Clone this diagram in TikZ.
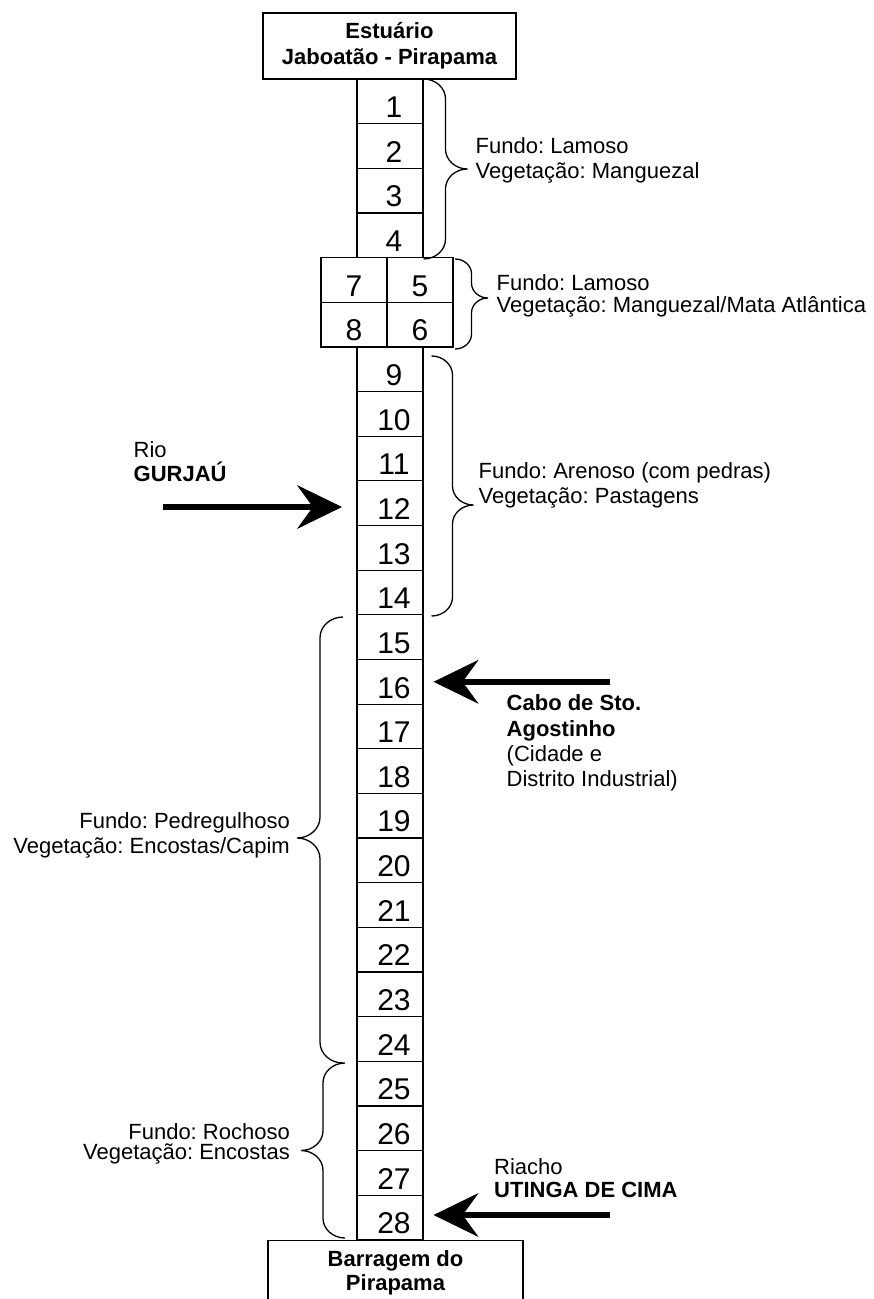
\documentclass[tikz,border=0pt]{standalone}
\usepackage{fontspec}
\setmainfont{Liberation Sans}
\frenchspacing
\usetikzlibrary{arrows.meta,calc}
% curly brace: #1 x of the ends, #2 top y, #3 bottom y, #4 y of the tip, #5 signed depth
\newcommand{\riverbrace}[5]{%
  \pgfmathsetmacro\brM{#1+#5/2}%
  \pgfmathsetmacro\brT{#1+#5}%
  \pgfmathsetmacro\brR{0.45*abs(#5)}%
  \draw[curly] (#1,#2) .. controls ({#1+0.55*#5/2},#2) and (\brM,{#2+0.45*\brR}) .. (\brM,{#2+\brR})
    -- (\brM,{#4-\brR}) .. controls (\brM,{#4-0.45*\brR}) and ({\brM+0.45*#5/2},#4) .. (\brT,#4)
    .. controls ({\brM+0.45*#5/2},#4) and (\brM,{#4+0.45*\brR}) .. (\brM,{#4+\brR})
    -- (\brM,{#3-\brR}) .. controls (\brM,{#3-0.45*\brR}) and ({#1+0.55*#5/2},#3) .. (#1,#3);}
\begin{document}
\begin{tikzpicture}[x=1pt,y=-1pt,
  cell/.style={draw, line width=1.2pt, minimum width=66pt, minimum height=44.65pt,
    inner sep=0pt, font=\fontsize{30}{30}\selectfont, text height=32.5pt, text depth=0pt},
  colcell/.style={cell, execute at begin node={\hspace*{8pt}}},
  endbox/.style={draw, line width=1.2pt, minimum height=66pt, inner sep=0pt,
    align=center, font=\fontsize{22}{25.6}\selectfont\bfseries},
  lbl/.style={inner sep=0pt, font=\fontsize{22}{25}\selectfont},
  curly/.style={line width=1.3pt},
  bigarrow/.style={line width=6.5pt,
    -{Stealth[length=45pt,width=44pt,inset=16pt,line width=0.8pt]}}]
\useasboundingbox (0,0) rectangle (874,1299);

% end points of the reach
\node[endbox, minimum width=253pt] (top) at (389.5,46) {Estuário\\Jaboatão - Pirapama};
\node[endbox, minimum width=255pt, anchor=north, font=\fontsize{22}{24}\selectfont\bfseries]
  (bottom) at (395.5,1239.5) {Barragem do\\Pirapama};

% sampling stations
\foreach \n in {1,...,4}
  \node[colcell] (c\n) at (390,{79+44.65*(\n-0.5)}) {\n};
\node[cell] (c7) at (354,{79+44.65*4.5}) {7};
\node[cell] (c5) at (420,{79+44.65*4.5}) {5};
\node[cell] (c8) at (354,{79+44.65*5.5}) {8};
\node[cell] (c6) at (420,{79+44.65*5.5}) {6};
\foreach \n in {9,...,28}
  \node[colcell] (c\n) at (390,{79+44.65*(\n-2.5)}) {\n};

% stretches and their descriptions
\riverbrace{423.5}{79}{259}{169}{44}
\node[lbl, anchor=west, align=left] (d1) at (475.5,160.5)
  {Fundo: Lamoso\\Vegetação: Manguezal};

\riverbrace{455}{259}{349}{298}{33}
\node[lbl, anchor=west, align=left, font=\fontsize{22}{21.5}\selectfont] (d2) at (496.5,296)
  {Fundo: Lamoso\\Vegetação: Manguezal/Mata Atlântica};

\riverbrace{431.5}{356}{616}{505}{42}
\node[lbl, anchor=west, align=left] (d3) at (478.5,485.5)
  {Fundo: Arenoso (com pedras)\\Vegetação: Pastagens};

\riverbrace{343}{617}{1063}{838}{-46}
\node[lbl, anchor=east, align=right] (d4) at (290,835.5)
  {Fundo: Pedregulhoso\\Vegetação: Encostas/Capim};

\riverbrace{345}{1063}{1238}{1150.5}{-44}
\node[lbl, anchor=east, align=right, font=\fontsize{22}{20}\selectfont] (d5) at (290,1143.5)
  {Fundo: Rochoso\\Vegetação: Encostas};

% inflows
\coordinate (gurjau) at (163,507);
\draw[bigarrow, shorten >=14.5pt] (gurjau) -- (gurjau -| c12.west);
\node[lbl, anchor=west, align=left, font=\fontsize{22}{24}\selectfont] (t1) at (133.5,462)
  {Rio\\\bfseries GURJAÚ};

\coordinate (cabo) at (610,681.8);
\draw[bigarrow, shorten >=10pt] (cabo) -- (cabo -| c16.east);
\node[lbl, anchor=west, align=left, font=\fontsize{22}{25.3}\selectfont] (t2) at (506.5,743)
  {\bfseries Cabo de Sto.\\\bfseries Agostinho\\(Cidade e\\Distrito Industrial)};

\coordinate (utinga) at (610,1215);
\draw[bigarrow, shorten >=10pt] (utinga) -- (utinga -| c28.east);
\node[lbl, anchor=west, align=left, font=\fontsize{22}{23}\selectfont] (t3) at (494,1178.5)
  {Riacho\\\bfseries UTINGA DE CIMA};
\end{tikzpicture}
\end{document}
